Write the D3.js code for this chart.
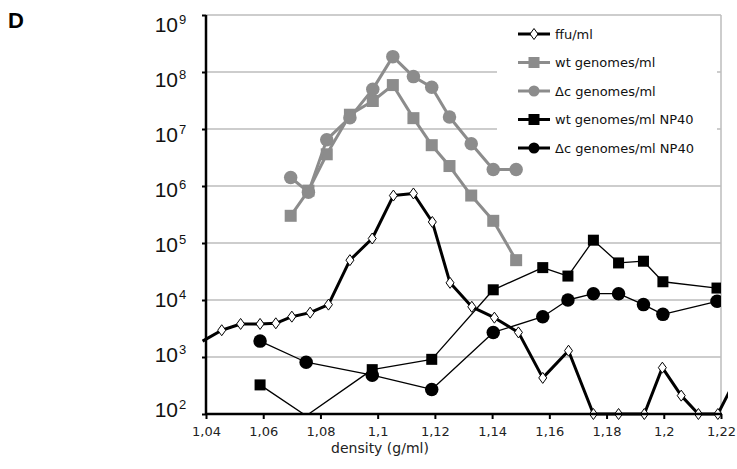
<!DOCTYPE html>
<html>
<head>
<meta charset="utf-8">
<script src="https://cdn.jsdelivr.net/npm/d3@7"></script>
<style>
  body { margin: 0; background: #fff; }
  text { font-family: "DejaVu Sans", Verdana, sans-serif; }
</style>
</head>
<body>
<svg id="chart"></svg>
<script>
// data (density in g/ml, values per ml)
var ffuDensity = [1.0388, 1.0455, 1.0521, 1.0589, 1.0644, 1.0700, 1.0764, 1.0828, 1.0903, 1.0981, 1.1055, 1.1125, 1.1191, 1.1253, 1.1329,
                  1.1408, 1.1492, 1.1577, 1.1667, 1.1754, 1.1842, 1.1932, 1.1995, 1.2061, 1.2121, 1.2189, 1.2255];
var ffuValues = [1900, 2950, 3800, 3800, 3900, 5100, 6000, 8300, 50000, 120000, 680000, 740000, 234000, 20000, 7600,
                 4900, 2700, 430, 1290, 100, 100, 100, 650, 210, 100, 100, 440];

var grayDensity = [1.0696, 1.0758, 1.0822, 1.0903, 1.0983, 1.1053, 1.1125, 1.1189, 1.1251, 1.1327, 1.1404, 1.1484];
var wtValues = [300000, 830000, 3600000, 17800000, 31000000, 59000000, 15500000, 5200000, 2240000, 680000, 245000, 50000];
var dcValues = [1410000, 780000, 6500000, 15800000, 50000000, 186000000, 83000000, 54000000, 16200000, 5500000, 1950000, 1950000];

var npDensity = [1.0589, 1.0750, 1.0981, 1.1189, 1.1404, 1.1577, 1.1665, 1.1754, 1.1842, 1.1929, 1.1997, 1.2186];
var wtNpValues = [324, 93, 600, 910, 15100, 37000, 26300, 112000, 44700, 47900, 20900, 16200];
var dcNpValues = [1900, 810, 480, 270, 2700, 5100, 10000, 12900, 12900, 8300, 5600, 9500];

var xTicks = [1.04, 1.06, 1.08, 1.10, 1.12, 1.14, 1.16, 1.18, 1.20, 1.22];
var xTickLabels = ["1,04", "1,06", "1,08", "1,1", "1,12", "1,14", "1,16", "1,18", "1,2", "1,22"];
var yTicks = [1e2, 1e3, 1e4, 1e5, 1e6, 1e7, 1e8, 1e9];
var yExponents = ["2", "3", "4", "5", "6", "7", "8", "9"];

var legendLabels = ["ffu/ml", "wt genomes/ml", "\u0394c genomes/ml", "wt genomes/ml NP40", "\u0394c genomes/ml NP40"];

var W = 737, H = 469;
var svg = d3.select("#chart").attr("width", W).attr("height", H);

var x = d3.scaleLinear().domain([1.04, 1.22]).range([206, 721]);
var y = d3.scaleLog().domain([1e2, 1e9]).range([414, 15]);
// the exponent labels in the figure sit on a slightly tighter spacing than the grid
var yLab = d3.scaleLog().domain([1e2, 1e9]).range([409, 24]);

var gray = "#8c8c8c";

// gridlines
svg.append("g").selectAll("line").data(yTicks).enter().append("line")
    .attr("x1", x(1.04)).attr("x2", x(1.22))
    .attr("y1", d => y(d)).attr("y2", d => y(d))
    .attr("stroke", "#bdbdbd").attr("stroke-width", 1.5);
// right border
svg.append("line")
    .attr("x1", x(1.22)).attr("x2", x(1.22))
    .attr("y1", y(1e9)).attr("y2", y(1e2))
    .attr("stroke", "#bdbdbd").attr("stroke-width", 1.5);

// legend background hides the gridlines behind it
svg.append("rect")
    .attr("x", 497).attr("y", 18).attr("width", 220).attr("height", 150)
    .attr("fill", "#fff");

// clipping
var defs = svg.append("defs");
defs.append("clipPath").attr("id", "clipAll").append("rect")
    .attr("x", x(1.04) - 8).attr("y", 0)
    .attr("width", x(1.22) + 7 - (x(1.04) - 8)).attr("height", y(1e2) + 12);
defs.append("clipPath").attr("id", "clipPlot").append("rect")
    .attr("x", x(1.04)).attr("y", 0)
    .attr("width", x(1.22) - x(1.04)).attr("height", y(1e2));

var line = d3.line().x(d => x(d[0])).y(d => y(d[1]));

var series = [
    { name: legendLabels[0], pts: d3.zip(ffuDensity, ffuValues), color: "#000", width: 3, marker: "diamond", clip: "clipAll" },
    { name: legendLabels[1], pts: d3.zip(grayDensity, wtValues), color: gray, width: 3, marker: "square", size: 12, clip: "clipAll" },
    { name: legendLabels[2], pts: d3.zip(grayDensity, dcValues), color: gray, width: 3, marker: "circle", size: 13.5, clip: "clipAll" },
    { name: legendLabels[3], pts: d3.zip(npDensity, wtNpValues), color: "#000", width: 1.3, marker: "square", size: 11, clip: "clipPlot" },
    { name: legendLabels[4], pts: d3.zip(npDensity, dcNpValues), color: "#000", width: 1.3, marker: "circle", size: 13.5, clip: "clipPlot" }
];

function drawMarker(g, s, cx, cy) {
    if (s.marker == "diamond") {
        g.append("path")
            .attr("d", "M0,-5.5L4,0L0,5.5L-4,0Z")
            .attr("transform", "translate(" + cx + "," + cy + ")")
            .attr("fill", "#fff").attr("stroke", "#000").attr("stroke-width", 1);
    } else if (s.marker == "square") {
        g.append("rect")
            .attr("x", cx - s.size / 2).attr("y", cy - s.size / 2)
            .attr("width", s.size).attr("height", s.size)
            .attr("fill", s.color);
    } else {
        g.append("circle")
            .attr("cx", cx).attr("cy", cy).attr("r", s.size / 2)
            .attr("fill", s.color);
    }
}

series.forEach(function(s) {
    var g = svg.append("g").attr("clip-path", "url(#" + s.clip + ")");
    g.append("path")
        .datum(s.pts)
        .attr("d", line)
        .attr("fill", "none")
        .attr("stroke", s.color)
        .attr("stroke-width", s.width)
        .attr("stroke-linejoin", "round");
    s.pts.forEach(function(p) {
        // off-scale points: Excel drops the marker
        if (p[1] < 1e2 || p[0] < 1.04 || p[0] > 1.22) return;
        drawMarker(g, s, x(p[0]), y(p[1]));
    });
});

// axes
var xAxis = svg.append("g")
    .attr("transform", "translate(0," + y(1e2) + ")")
    .call(d3.axisBottom(x).tickValues(xTicks).tickSize(5).tickFormat((d, i) => xTickLabels[i]));
xAxis.select(".domain").attr("stroke-width", 2.5).attr("d", "M" + x(1.04) + ",0H" + x(1.22));
xAxis.selectAll(".tick line").attr("stroke-width", 2);
xAxis.selectAll(".tick text")
    .attr("font-family", "'DejaVu Sans', Verdana, sans-serif")
    .attr("font-size", 13).attr("fill", "#222").attr("dy", "1.05em");

var yAxis = svg.append("g")
    .attr("transform", "translate(" + x(1.04) + ",0)")
    .call(d3.axisLeft(y).tickValues(yTicks).tickSize(4).tickFormat(""));
yAxis.select(".domain").attr("stroke-width", 2.5).attr("d", "M0," + y(1e9) + "V" + y(1e2));
yAxis.selectAll(".tick line").attr("stroke-width", 2);

// y tick labels 10^n
svg.append("g").selectAll("text").data(yTicks).enter().append("text")
    .attr("x", 178)
    .attr("y", d => yLab(d) + 8)
    .attr("text-anchor", "end")
    .style("font-family", "'Liberation Sans', Arial, sans-serif")
    .attr("font-size", 21)
    .attr("fill", "#111")
    .text("10");
svg.append("g").selectAll("text").data(yTicks).enter().append("text")
    .attr("x", 179)
    .attr("y", d => yLab(d))
    .style("font-family", "'Liberation Sans', Arial, sans-serif")
    .attr("font-size", 13)
    .attr("fill", "#111")
    .text((d, i) => yExponents[i]);

// axis title
svg.append("text")
    .attr("x", 380).attr("y", 453)
    .attr("text-anchor", "middle")
    .attr("font-size", 14)
    .attr("fill", "#222")
    .text("density (g/ml)");

// panel letter
svg.append("text")
    .attr("x", 8).attr("y", 28)
    .style("font-family", "'Liberation Sans', Arial, sans-serif")
    .attr("font-weight", "bold")
    .attr("font-size", 22)
    .text("D");

// legend
var legend = svg.append("g");
series.forEach(function(s, i) {
    var ly = 34 + i * 28.5;
    legend.append("line")
        .attr("x1", 518).attr("x2", 550).attr("y1", ly).attr("y2", ly)
        .attr("stroke", s.color).attr("stroke-width", 3);
    drawMarker(legend, s.marker == "diamond" ? s : Object.assign({}, s, { size: 11 }), 534, ly);
    legend.append("text")
        .attr("x", 555).attr("y", ly)
        .attr("dy", "0.35em")
        .attr("font-size", 13)
        .attr("fill", "#111")
        .text(s.name);
});
</script>
</body>
</html>
